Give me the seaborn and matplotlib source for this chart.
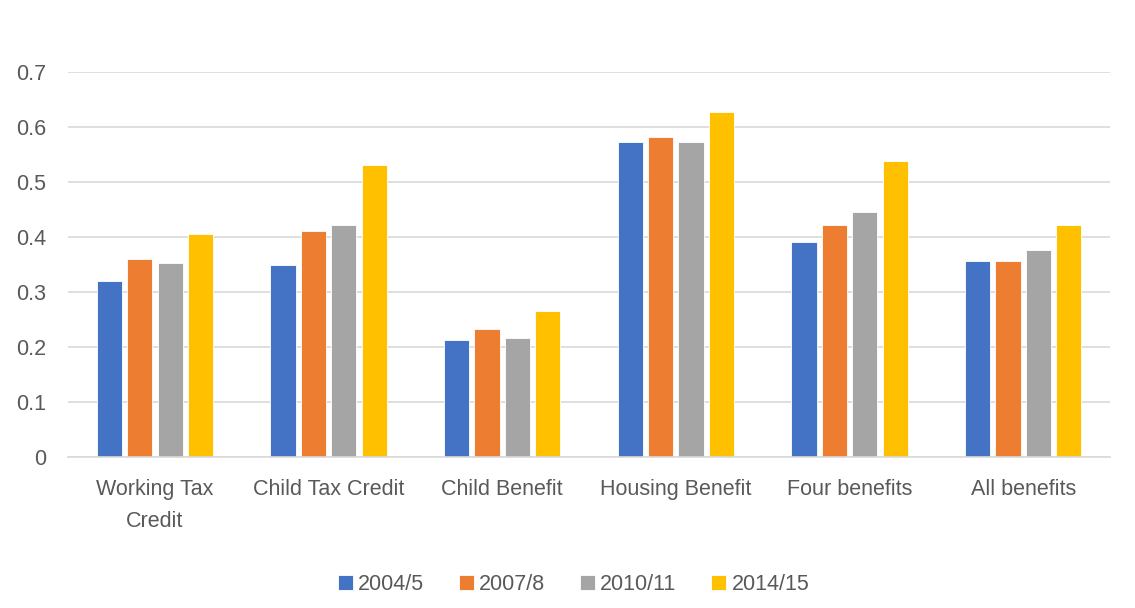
import pandas as pd
import seaborn as sns
import matplotlib.pyplot as plt

categories = ['Working Tax\nCredit', 'Child Tax Credit', 'Child Benefit',
              'Housing Benefit', 'Four benefits', 'All benefits']
years = ['2004/5', '2007/8', '2010/11', '2014/15']
vals_2004 = [0.320, 0.349, 0.213, 0.573, 0.391, 0.356]
vals_2007 = [0.360, 0.411, 0.233, 0.581, 0.422, 0.356]
vals_2010 = [0.353, 0.422, 0.216, 0.573, 0.445, 0.376]
vals_2014 = [0.405, 0.531, 0.265, 0.627, 0.538, 0.422]

colors = ['#4472C4', '#ED7D31', '#A5A5A5', '#FFC000']

df = pd.DataFrame({'category': categories * 4,
                   'year': [y for y in years for _ in categories],
                   'value': vals_2004 + vals_2007 + vals_2010 + vals_2014})

sns.set_style('white')
plt.rcParams['font.family'] = ['Liberation Sans', 'DejaVu Sans']
txt = '#595959'
fs = 15.5

fig = plt.figure(figsize=(11.35, 6.08), dpi=100)
ax = fig.add_axes([0.06, 0.248, 0.918, 0.634])

sns.barplot(data=df, x='category', y='value', hue='year', palette=colors,
            saturation=1, width=0.7, gap=0.17, ax=ax,
            edgecolor='white', linewidth=0.6)

ax.set_ylim(0, 0.7)
ax.set_xlim(-0.5, 5.5)
ax.set_yticks([0, 0.1, 0.2, 0.3, 0.4, 0.5, 0.6, 0.7])
ax.set_yticklabels(['0', '0.1', '0.2', '0.3', '0.4', '0.5', '0.6', '0.7'])
ax.set_xticks(range(len(categories)))
ax.set_xticklabels(categories, linespacing=1.65, va='top')
ax.yaxis.grid(True, color='#D9D9D9', linewidth=1.2)
ax.set_axisbelow(True)
for s in ['top', 'right', 'left']:
    ax.spines[s].set_visible(False)
ax.spines['bottom'].set_color('#D9D9D9')
ax.spines['bottom'].set_linewidth(1.2)
ax.tick_params(axis='both', length=0, labelsize=fs, colors=txt)
ax.tick_params(axis='y', pad=16)
ax.tick_params(axis='x', pad=16)
ax.set_xlabel('')
ax.set_ylabel('')

handles, labels = ax.get_legend_handles_labels()
ax.legend(handles, labels, loc='center', bbox_to_anchor=(0.485, -0.33),
          ncol=4, frameon=False, fontsize=fs, labelcolor=txt,
          handlelength=0.7, handleheight=0.7, handletextpad=0.25,
          columnspacing=1.6)

fig.savefig('out.png', dpi=100)
